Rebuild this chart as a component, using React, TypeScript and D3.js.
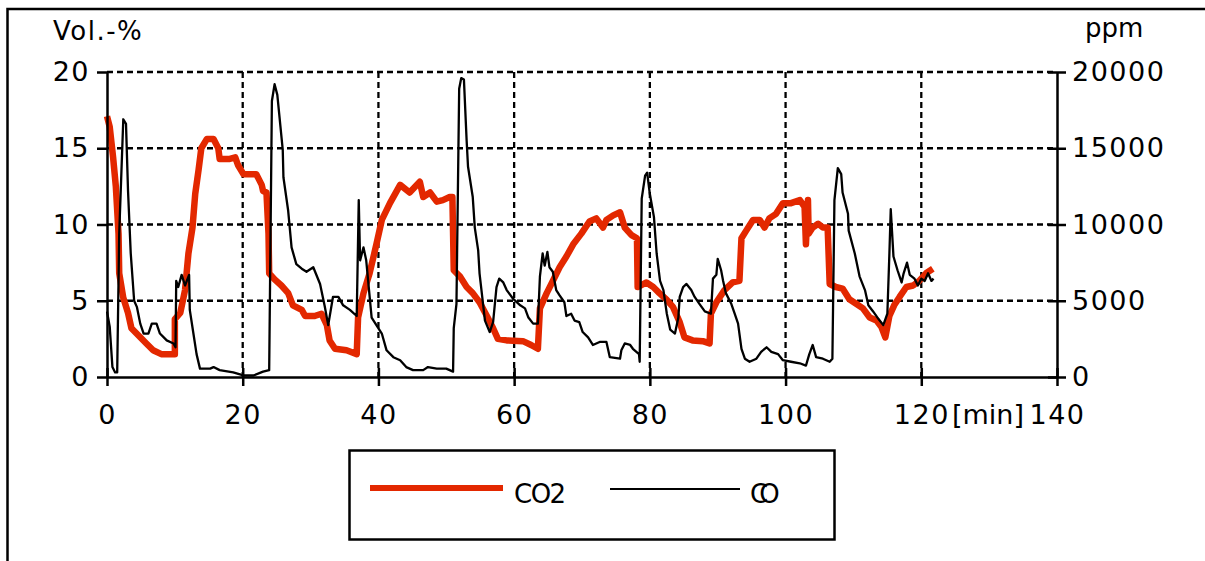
import React, { useEffect, useRef } from 'react';
import * as d3 from 'd3';

// CO2 trace, left axis (Vol.-%)
const co2Time = [
  0, 0.4, 0.9, 1.3, 1.7, 1.8, 2.4, 3.1, 3.6, 4.9,
  5.8, 6.8, 8.0, 10.0, 10.0, 10.8, 11.5, 12.0, 12.6, 13.0,
  13.5, 13.9, 14.7, 15.7, 16.4, 16.6, 18.1, 18.9, 19.3, 20.1,
  22.0, 22.8, 23.0, 23.5, 23.8, 23.9, 24.7, 25.7, 26.7, 27.4,
  28.7, 29.2, 30.6, 31.6, 32.4, 32.8, 33.6, 35.3, 36.8, 37.0,
  37.8, 38.7, 39.7, 40.5, 41.7, 43.2, 44.6, 46.1, 46.6, 47.6,
  48.6, 49.5, 50.5, 50.9, 51.1, 52.0, 53.0, 53.9, 54.9, 56.1,
  56.9, 57.6, 58.9, 61.3, 62.5, 63.5, 63.8, 64.8, 65.7, 66.7,
  67.7, 68.7, 69.9, 71.1, 72.1, 73.1, 73.6, 74.6, 75.6, 76.3,
  77.3, 78.1, 78.2, 79.5, 80.5, 81.4, 82.4, 83.4, 84.4, 85.1,
  86.3, 87.8, 88.8, 89.0, 89.8, 91.0, 92.2, 93.2, 93.5, 94.2,
  95.2, 96.2, 96.9, 97.6, 98.6, 99.6, 100.8, 102.1, 102.8, 103.0,
  103.3, 103.4, 104.0, 104.8, 105.5, 106.2, 106.5, 107.4, 108.4, 109.4,
  110.4, 111.4, 112.4, 113.4, 114.1, 114.7, 115.3, 116.0, 116.8, 117.8,
  118.8, 119.7, 120.7, 121.7
];
const co2Vol = [
  17.1, 16.4, 14.4, 12.5, 9.4, 6.8, 5.2, 4.2, 3.2, 2.6,
  2.2, 1.75, 1.5, 1.5, 3.8, 4.2, 5.7, 8.1, 9.8, 12.0,
  13.6, 15.0, 15.6, 15.6, 15.0, 14.3, 14.3, 14.4, 13.9, 13.3,
  13.3, 12.6, 12.2, 12.1, 9.4, 6.8, 6.4, 6.0, 5.5, 4.7,
  4.4, 4.0, 4.0, 4.15, 3.4, 2.4, 1.85, 1.75, 1.5, 3.9,
  5.5, 6.8, 8.7, 10.3, 11.4, 12.6, 12.1, 12.8, 11.8, 12.1,
  11.5, 11.6, 11.8, 11.8, 7.0, 6.6, 5.9, 5.5, 4.9, 3.9,
  3.2, 2.5, 2.4, 2.35, 2.1, 1.85, 4.5, 5.5, 6.3, 7.2,
  7.9, 8.7, 9.4, 10.2, 10.4, 9.8, 10.3, 10.6, 10.8, 9.8,
  9.3, 9.1, 5.9, 6.2, 5.9, 5.5, 5.1, 4.6, 3.6, 2.6,
  2.4, 2.35, 2.2, 4.15, 4.9, 5.7, 6.2, 6.3, 9.1, 9.6,
  10.3, 10.3, 9.8, 10.4, 10.7, 11.4, 11.4, 11.6, 11.15, 8.7,
  11.6, 9.4, 9.8, 10.05, 9.8, 9.8, 6.1, 5.9, 5.8, 5.1,
  4.8, 4.5, 3.9, 3.7, 3.3, 2.6, 4.0, 4.7, 5.25, 5.9,
  6.0, 6.3, 6.8, 7.1
];

// CO trace, right axis (ppm)
const coTime = [
  0, 0.4, 0.8, 1.2, 1.5, 1.8, 2.4, 2.8, 3.1, 3.5,
  4.0, 4.4, 4.9, 5.4, 6.1, 6.6, 7.3, 7.8, 8.8, 9.8,
  10.1, 10.2, 10.5, 11.0, 11.5, 12.1, 12.2, 12.7, 13.2, 13.7,
  15.2, 15.7, 16.6, 18.6, 20.1, 21.6, 23.0, 23.9, 24.3, 24.7,
  25.1, 25.9, 26.0, 26.7, 27.2, 27.9, 28.7, 29.4, 30.4, 31.4,
  32.1, 32.6, 33.3, 34.1, 34.8, 35.8, 36.8, 37.1, 37.3, 37.8,
  38.2, 39.0, 39.7, 40.5, 41.2, 42.2, 43.2, 44.1, 45.1, 46.6,
  47.3, 48.6, 50.0, 51.0, 51.1, 51.5, 51.9, 52.2, 52.6, 53.0,
  53.2, 53.9, 54.2, 54.7, 54.9, 55.7, 56.4, 56.9, 57.4, 57.8,
  58.4, 58.9, 59.9, 60.9, 61.6, 62.1, 62.8, 63.5, 63.8, 64.2,
  64.5, 64.9, 65.2, 65.7, 66.2, 66.7, 67.4, 67.7, 68.4, 68.9,
  69.6, 70.1, 70.9, 71.6, 72.6, 73.6, 74.1, 75.6, 75.8, 76.3,
  77.1, 77.5, 78.4, 78.5, 78.8, 79.3, 79.6, 80.0, 80.6, 81.0,
  81.5, 82.0, 82.5, 83.0, 83.7, 84.2, 84.4, 84.9, 85.4, 86.1,
  86.6, 87.3, 88.1, 89.0, 89.3, 89.8, 90.0, 90.5, 90.8, 91.2,
  92.0, 92.5, 93.0, 93.5, 94.0, 94.7, 95.7, 96.4, 97.2, 97.9,
  98.9, 99.6, 100.8, 102.1, 103.0, 103.5, 104.0, 104.5, 105.5, 106.5,
  106.9, 107.2, 107.7, 108.2, 108.4, 109.2, 109.3, 110.2, 110.9, 111.7,
  112.2, 112.9, 113.7, 114.4, 115.0, 115.3, 115.5, 115.9, 116.5, 117.1,
  117.4, 117.9, 118.3, 119.0, 119.5, 120.0, 120.5, 121.0, 121.5, 121.8
];
const coPpm = [
  4300, 3300, 650, 300, 300, 9400, 16900, 16600, 12200, 8100,
  5000, 4600, 3500, 2850, 2850, 3500, 3500, 2850, 2400, 2200,
  1950, 6300, 5900, 6700, 6000, 6700, 4400, 2950, 1500, 550,
  550, 650, 450, 300, 100, 100, 350, 450, 18100, 19200,
  18500, 14900, 13100, 10900, 8500, 7400, 7100, 6900, 7200, 6100,
  4600, 3400, 5250, 5250, 4700, 4400, 4000, 11600, 7650, 8500,
  7650, 3900, 3400, 2850, 1750, 1300, 1100, 650, 450, 450,
  650, 550, 550, 350, 3200, 4800, 18900, 19600, 19500, 15500,
  13800, 11800, 9800, 8300, 6800, 3700, 2950, 3600, 5900, 6450,
  6200, 5700, 5100, 4700, 4500, 3900, 3500, 3500, 6600, 8100,
  7300, 8200, 7200, 6900, 5700, 5350, 4900, 4000, 4150, 3700,
  3600, 2950, 2600, 2100, 2300, 2300, 1300, 1200, 1750, 2200,
  2100, 1850, 1500, 1000, 11700, 13200, 13400, 12000, 10500, 8100,
  6300, 5700, 4150, 3100, 2850, 3900, 5250, 5900, 6100, 5700,
  5250, 4800, 4300, 4150, 6450, 6700, 7750, 7000, 6300, 5500,
  4800, 4150, 3500, 1850, 1200, 1000, 1200, 1650, 1950, 1650,
  1500, 1100, 1000, 900, 750, 1500, 2100, 1300, 1200, 1000,
  1200, 11600, 13700, 13300, 12100, 10700, 9600, 8100, 6600, 5700,
  4700, 4300, 3800, 3400, 4150, 8100, 11000, 7900, 7000, 6200,
  6800, 7500, 6700, 6450, 6000, 6450, 6300, 6800, 6300, 6450
];

const xTicks = [0, 20, 40, 60, 80, 100, 120, 140];
const volTicks = [0, 5, 10, 15, 20];
const ppmTicks = [0, 5000, 10000, 15000, 20000];
const seriesNames = ['CO2', 'CO'];

const FONT = 'DejaVu Sans';
const RED = '#e32800';

const App = () => {
  const ref = useRef<SVGSVGElement>(null);

  useEffect(() => {
    if (ref.current) drawChart(ref.current);
  }, []);

  return (
    <svg ref={ref} width={1205} height={561}
      style={{ position: 'absolute', left: 0, top: 0, background: '#fff' }} />
  );
};

function drawChart(el: SVGSVGElement) {
  const svg = d3.select(el);
  svg.selectAll('*').remove();

  // outer frame (runs off the right and bottom of the picture)
  svg.append('rect')
    .attr('x', 7.5).attr('y', 9)
    .attr('width', 1400).attr('height', 800)
    .attr('fill', 'none').attr('stroke', '#000').attr('stroke-width', 2.5);

  const x = d3.scaleLinear().domain([0, 140]).range([107, 1057]);
  const yL = d3.scaleLinear().domain([0, 20]).range([377, 72]);
  const yR = d3.scaleLinear().domain([0, 20000]).range([377, 72]);

  // dashed grid
  const grid = svg.append('g')
    .attr('stroke', '#000').attr('stroke-width', 2.3).attr('stroke-dasharray', '6,4');
  grid.selectAll('line.v')
    .data(xTicks.filter(d => d > 0 && d < 140))
    .join('line').attr('class', 'v')
    .attr('x1', d => x(d)).attr('x2', d => x(d))
    .attr('y1', yL(20)).attr('y2', yL(0));
  grid.selectAll('line.h')
    .data(volTicks.filter(d => d > 0))
    .join('line').attr('class', 'h')
    .attr('x1', x(0)).attr('x2', x(140))
    .attr('y1', d => yL(d)).attr('y2', d => yL(d));

  // series
  const co2Line = d3.line<number>()
    .x((d, i) => x(co2Time[i]))
    .y(d => yL(d));
  const coLine = d3.line<number>()
    .x((d, i) => x(coTime[i]))
    .y(d => yR(d));

  svg.append('path')
    .attr('d', co2Line(co2Vol))
    .attr('fill', 'none').attr('stroke', RED)
    .attr('stroke-width', 6.5).attr('stroke-linejoin', 'round');
  svg.append('path')
    .attr('d', coLine(coPpm))
    .attr('fill', 'none').attr('stroke', '#000')
    .attr('stroke-width', 2.3).attr('stroke-linejoin', 'round');

  // axes
  const styleAxis = (g: any) => {
    g.attr('font-family', FONT).attr('font-size', 27);
    g.select('.domain').attr('stroke-width', 2.5);
    g.selectAll('.tick line').attr('stroke-width', 2.5);
    g.selectAll('.tick text').style('letter-spacing', '1.5px');
  };

  const bottom = svg.append('g')
    .attr('transform', `translate(0,${yL(0)})`)
    .call(d3.axisBottom(x).tickValues(xTicks).tickSizeInner(9).tickSizeOuter(0).tickPadding(19));
  styleAxis(bottom);
  bottom.selectAll('.tick line').attr('y1', -9);

  const left = svg.append('g')
    .attr('transform', `translate(${x(0)},0)`)
    .call(d3.axisLeft(yL).tickValues(volTicks).tickSizeInner(10).tickSizeOuter(0).tickPadding(7));
  styleAxis(left);

  const right = svg.append('g')
    .attr('transform', `translate(${x(140)},0)`)
    .call(d3.axisRight(yR).tickValues(ppmTicks).tickFormat(d3.format('d')).tickSizeInner(9).tickSizeOuter(0).tickPadding(6));
  styleAxis(right);
  right.selectAll('.tick line').attr('x1', -9);

  // axis titles
  svg.append('text')
    .attr('x', 53).attr('y', 40)
    .attr('font-family', FONT).attr('font-size', 26)
    .style('letter-spacing', '1.5px')
    .text('Vol.-%');
  svg.append('text')
    .attr('x', 1085).attr('y', 37)
    .attr('font-family', FONT).attr('font-size', 26)
    .text('ppm');
  svg.append('text')
    .attr('x', 952).attr('y', 424)
    .attr('font-family', FONT).attr('font-size', 27)
    .text('[min]');

  // legend
  const legend = svg.append('g');
  legend.append('rect')
    .attr('x', 349.5).attr('y', 450.5)
    .attr('width', 485).attr('height', 89)
    .attr('fill', 'none').attr('stroke', '#000').attr('stroke-width', 2.5);
  legend.append('line')
    .attr('x1', 370).attr('x2', 503).attr('y1', 488).attr('y2', 488)
    .attr('stroke', RED).attr('stroke-width', 6);
  legend.append('text')
    .attr('x', 514).attr('y', 503)
    .attr('font-family', FONT).attr('font-size', 26)
    .style('letter-spacing', '-1.5px')
    .text(seriesNames[0]);
  legend.append('line')
    .attr('x1', 610).attr('x2', 740).attr('y1', 489).attr('y2', 489)
    .attr('stroke', '#000').attr('stroke-width', 2);
  legend.append('text')
    .attr('x', 750).attr('y', 503)
    .attr('font-family', FONT).attr('font-size', 26)
    .style('letter-spacing', '-9px')
    .text(seriesNames[1]);
}

export default App;
